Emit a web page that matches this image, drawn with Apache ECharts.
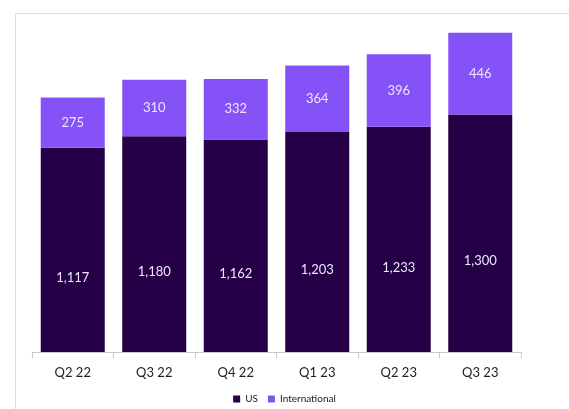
<!DOCTYPE html>
<html>
<head>
<meta charset="utf-8">
<script src="https://cdn.jsdelivr.net/npm/echarts@6/dist/echarts.min.js"></script>
<style>
html, body { margin: 0; padding: 0; background: #fff; }
#chart { width: 569px; height: 409px; }
</style>
</head>
<body>
<div id="chart"></div>
<script>
const quarters = ['Q2 22', 'Q3 22', 'Q4 22', 'Q1 23', 'Q2 23', 'Q3 23']
const us = [1117, 1180, 1162, 1203, 1233, 1300]
const international = [275, 310, 332, 364, 396, 446]

const fmt = p => p.value.toLocaleString('en-US')
const font = 'Lato, "Noto Sans", sans-serif'

const chart = echarts.init(document.getElementById('chart'))
chart.setOption({
    animation: false,
    textStyle: { fontFamily: font },
    graphic: [{
        type: 'rect',
        shape: { x: 15.5, y: 13.5, width: 600, height: 450 },
        style: { fill: 'none', stroke: '#dcdcdc', lineWidth: 1 },
        silent: true
    }],
    grid: { left: 32, right: 48, top: 23, bottom: 57 },
    legend: {
        bottom: 0,
        left: 'center',
        itemWidth: 7,
        itemHeight: 7,
        itemGap: 10,
        icon: 'rect',
        textStyle: { fontSize: 10, color: '#222', fontFamily: font },
        data: ['US', 'International']
    },
    xAxis: {
        type: 'category',
        data: quarters,
        axisLine: { lineStyle: { color: '#c8c8c8' } },
        axisTick: { show: true, length: 6, lineStyle: { color: '#c8c8c8' } },
        axisLabel: { fontSize: 13, color: '#222', margin: 14, fontFamily: font }
    },
    yAxis: {
        type: 'value',
        min: 0,
        max: 1800,
        show: false,
        splitLine: { show: false }
    },
    series: [
        {
            name: 'US',
            type: 'bar',
            stack: 'total',
            barWidth: 64,
            data: us,
            itemStyle: { color: '#250046' },
            label: {
                show: true,
                position: 'inside',
                offset: [0, 28],
                formatter: fmt,
                color: '#ece6ff',
                fontSize: 13,
                fontFamily: font
            }
        },
        {
            name: 'International',
            type: 'bar',
            stack: 'total',
            barWidth: 64,
            data: international,
            itemStyle: { color: '#8552f8' },
            label: {
                show: true,
                position: 'inside',
                formatter: fmt,
                color: '#ece6ff',
                fontSize: 13,
                fontFamily: font
            }
        }
    ]
})
</script>
</body>
</html>
